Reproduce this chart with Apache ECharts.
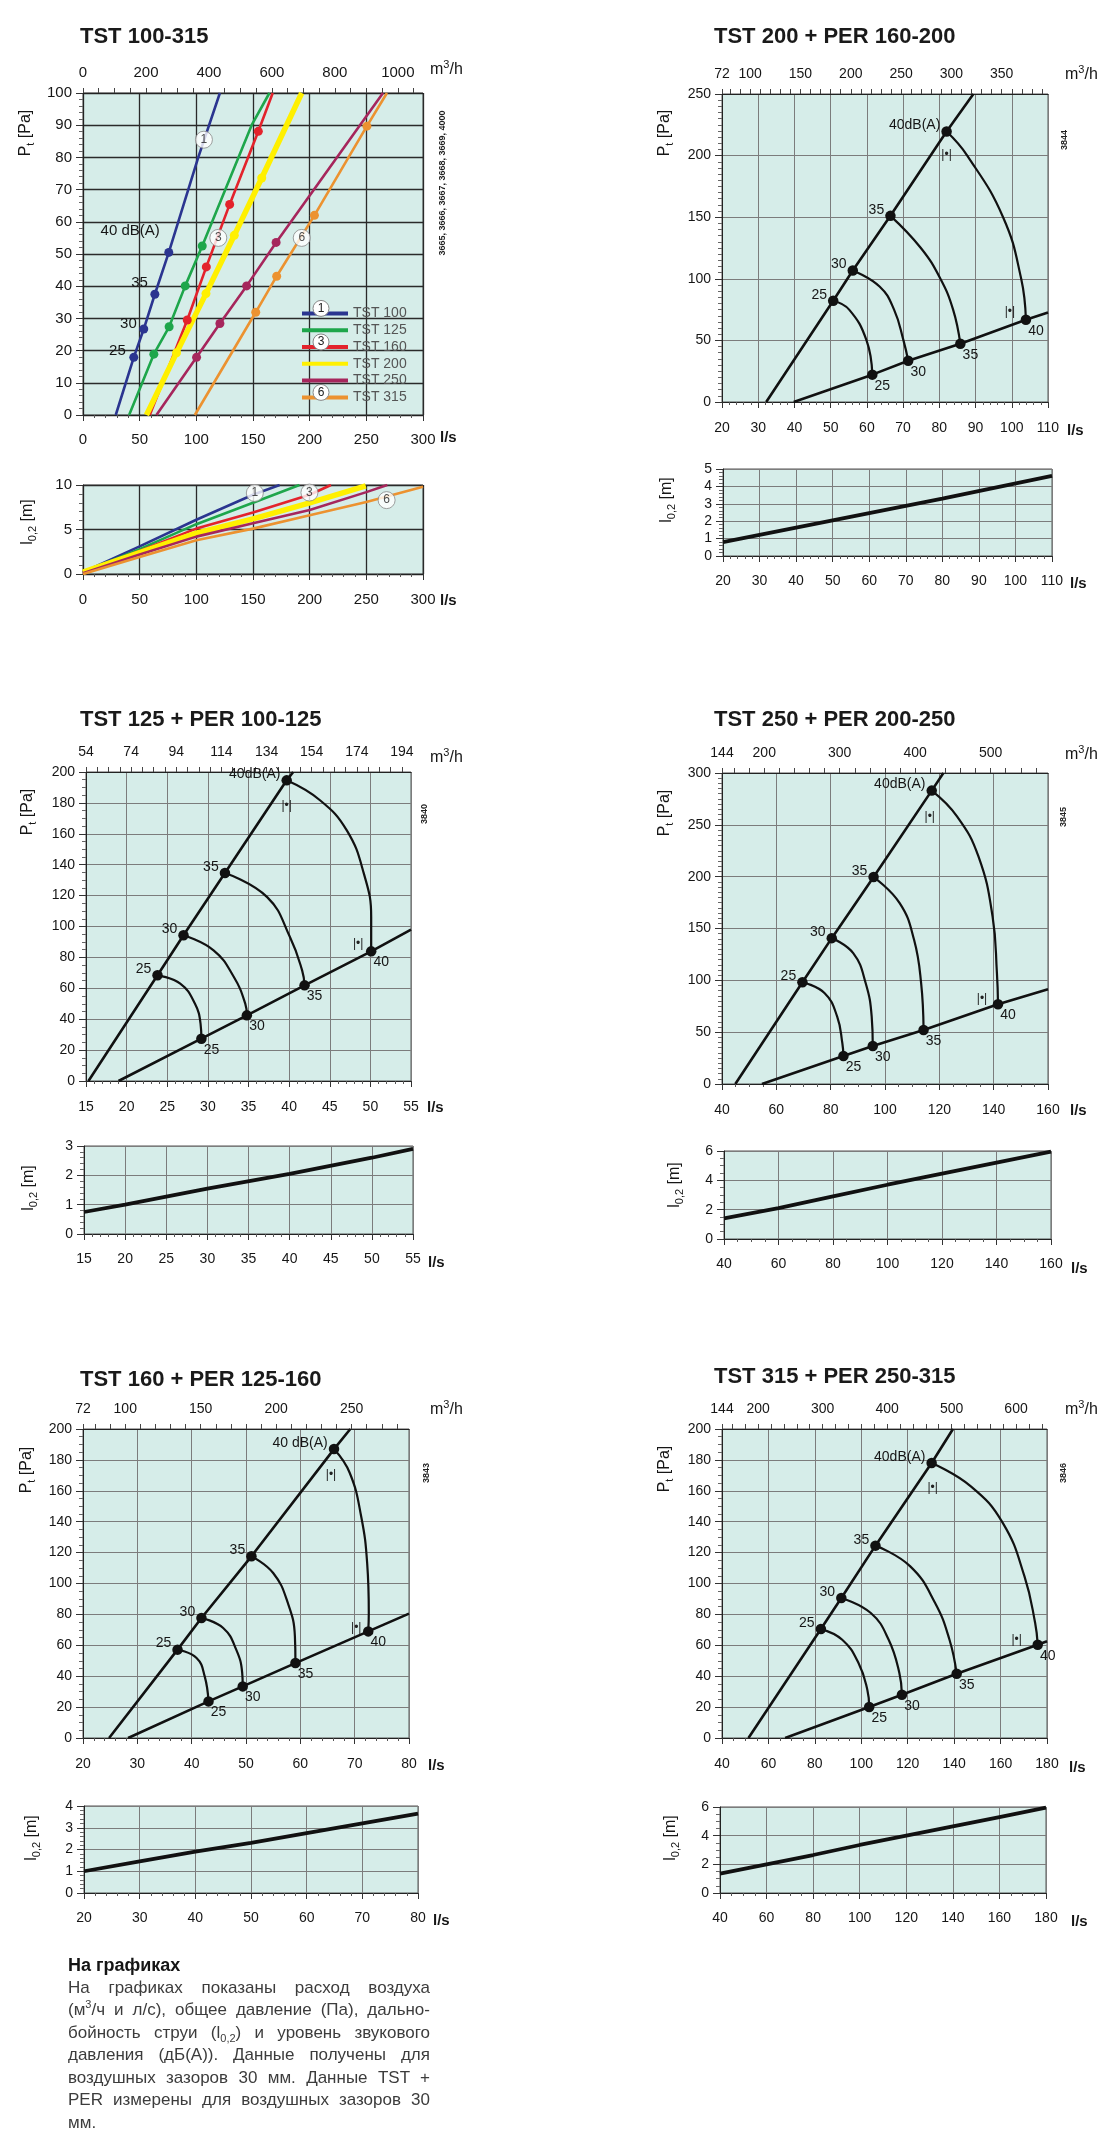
<!DOCTYPE html>
<html><head><meta charset="utf-8">
<script src="https://cdn.jsdelivr.net/npm/echarts@6/dist/echarts.min.js"></script>
<style>
html,body{margin:0;padding:0;background:#fff;}
#c{width:1120px;height:2137px;position:absolute;left:0;top:0;}
#note{position:absolute;left:68px;top:1954px;width:362px;font-family:"Liberation Sans",Arial,sans-serif;color:#3c3c3c;font-size:17px;line-height:22.5px;}
#note .h{font-weight:bold;color:#151515;font-size:18px;}
#note .l{text-align:justify;text-align-last:justify;}
#note sup,#note sub{font-size:11px;line-height:0;}
</style></head><body>
<div id="c"></div>
<div id="note">
<div class="h">На графиках</div>
<div class="l">На графиках показаны расход воздуха</div>
<div class="l">(м<sup>3</sup>/ч и л/с), общее давление (Па), дально-</div>
<div class="l">бойность струи (l<sub>0,2</sub>) и уровень звукового</div>
<div class="l">давления (дБ(А)). Данные получены для</div>
<div class="l">воздушных зазоров 30 мм. Данные TST +</div>
<div class="l">PER измерены для воздушных зазоров 30</div>
<div>мм.</div>
</div>
<script>
// ================= DATA =================
// Chart 1: TST 100-315, pressure [Pa] vs flow [l/s]; points 1..4 are the 25/30/35/40 dB(A) marks
const tstNames = ['TST 100','TST 125','TST 160','TST 200','TST 250','TST 315'];
const tstColors = ['#2b3590','#1ea64b','#e3232c','#fff000','#a6265c','#ec9230'];
const tst100P = [[28.9,0],[44.8,17.9],[53.6,26.7],[63.4,37.5],[75.7,50.5],[101.7,80],[120.8,100]];
const tst125P = [[40.7,0],[62.5,18.9],[76.0,27.4],[90.2,40.1],[105.2,52.5],[148.8,90],[164.5,100]];
const tst160P = [[58.9,0],[92.0,29.5],[108.8,46.0],[129.4,65.4],[154.7,88.1],[167.4,100]];
const tst200P = [[56.0,0],[82.5,19.3],[108.5,37.7],[133.5,55.8],[157.7,73.6],[193.0,100]];
const tst250P = [[64.8,0],[100.2,17.9],[120.8,28.4],[144.4,40.1],[170.4,53.6],[264.7,100]];
const tst315P = [[98.7,0],[152.4,31.9],[170.9,43.1],[204.2,62.0],[250.5,89.7],[268.2,100]];
const tst100DbLabels = ['25','30','35','40 dB(A)'];
// Chart 1 lower: throw l0,2 [m] vs flow [l/s]
const tst100L = [[0,0.2],[50,3.1],[100,6.1],[150,8.9],[173.5,10]];
const tst125L = [[0,0.2],[50,2.8],[100,5.6],[150,8.0],[191,10]];
const tst160L = [[0,0.2],[50,2.6],[100,5.1],[150,6.9],[200,8.9],[218.8,10]];
const tst200L = [[0,0.2],[50,2.4],[100,4.6],[150,6.2],[200,8.0],[249.5,9.9]];
const tst250L = [[0,0.1],[50,2.2],[100,4.2],[150,5.7],[200,7.2],[250,9.2],[268.5,10]];
const tst315L = [[0,0],[50,1.9],[100,3.8],[150,5.1],[200,6.6],[250,8.1],[300,9.8]];
const tagNames = ['1','3','6'];
const tagPosP = [[106.7,85.5],[119.4,55],[193,55]];
const tagPosL = [[151.6,9.1],[199.8,9.15],[267.9,8.3]];
const c1TopLabels = [0,200,400,600,800,1000];

// PER charts: upper/lower lines = [start, 25, 30, 35, 40, end]; arcs = inner points of each dB arc
const upTags = ['25','30','35','40dB(A)'];
const upTags160 = ['25','30','35','40 dB(A)'];
const loTags = ['25','30','35','40'];

const p200Upper = [[32.2,0],[50.7,82.2],[56.1,106.8],[66.5,151.1],[82.0,219.5],[89.4,250]];
const p200Lower = [[39.8,0],[61.5,22.2],[71.4,33.5],[85.8,47.3],[103.9,66.8],[110,72.7]];
const p200Arcs = [[[55.1,75],[59.9,50]],[[63.5,93.8],[67.5,75],[70.1,50]],[[74.9,125],[80.3,100],[83.8,75]],[[87.7,200],[97.6,150],[102.6,100]]];
const p200Throw = [[20,0.8],[50,2.05],[80,3.3],[110,4.6]];
const p200Top = [72,100,150,200,250,300,350];

const p125Upper = [[15.3,0],[23.8,68.4],[27.0,94.3],[32.1,134.6],[39.7,194.6],[40.5,200]];
const p125Lower = [[19.0,0],[29.2,27.4],[34.8,42.5],[41.9,61.9],[50.1,83.9],[55,98]];
const p125Arcs = [[[26.6,63],[28.4,50.1],[29.1,37]],[[30.7,84.6],[33.2,67.3],[34.6,50.1]],[[37.3,119],[40.1,93.2],[41.6,71.6]],[[43.8,181.7],[47.1,162.2],[49.2,134.2],[50.1,106.1]]];
const p125Throw = [[15,0.75],[20,1.0],[30,1.55],[40,2.05],[50,2.6],[55,2.9]];
const p125Top = [54,74,94,114,134,154,174,194];

const p250Upper = [[44.9,0],[69.6,98.2],[80.4,140.7],[95.8,199.6],[117.2,283],[121.5,300]];
const p250Lower = [[54.7,0],[84.7,27.0],[95.5,36.7],[114.2,52.1],[141.6,76.9],[160,91.4]];
const p250Arcs = [[[77.8,87.6],[82.4,65.0],[84.3,39.3]],[[88.3,126.2],[92.9,97.2],[95.1,65.0]],[[105.4,174.5],[110.7,139.1],[113.3,97.2]],[[126.5,258.2],[134.4,219.5],[139.6,161.6],[141.2,106.9]]];
const p250Throw = [[40,1.4],[60,2.1],[80,2.9],[100,3.7],[120,4.45],[140,5.2],[160,5.95]];
const p250Top = [144,200,300,400,500];

const p160Upper = [[24.8,0],[37.4,57.2],[41.8,77.7],[51.0,117.6],[66.2,187],[69.2,200]];
const p160Lower = [[28.3,0],[43.1,23.7],[49.4,33.4],[59.1,48.5],[72.5,69.0],[80,80.5]];
const p160Arcs = [[[40.9,51.8],[42.4,39.9]],[[45.8,71.2],[48.2,57.2],[49.3,42.1]],[[55.0,106.8],[57.7,87.4],[59.0,65.8]],[[69.1,171.5],[71.2,143.4],[72.3,113.2],[72.6,80.9]]];
const p160Throw = [[20,1.0],[30,1.45],[40,1.9],[50,2.3],[60,2.75],[70,3.2],[80,3.65]];
const p160Top = [72,100,150,200,250];

const p315Upper = [[51.4,0],[82.6,70.5],[91.4,90.6],[106.1,124.5],[130.3,178],[139.5,200]];
const p315Lower = [[67.2,0],[103.4,20.1],[117.5,28.0],[141.1,41.6],[176.0,60.4],[180,62.6]];
const p315Arcs = [[[91.8,63.6],[98.8,48.5],[102.6,31.3]],[[104.1,80.9],[111.8,63.6],[116.4,42.1]],[[121.1,111.1],[131.8,87.4],[138.0,63.6]],[[147.2,162.9],[161.0,139.1],[170.3,104.6],[174.9,74.4]]];
const p315Throw = [[40,1.35],[60,2.0],[80,2.65],[100,3.35],[120,4.0],[140,4.65],[160,5.3],[180,5.95]];
const p315Top = [144,200,300,400,500,600];

// ================= BUILD =================
const BG = '#d6ede9';
const FONT = '"Liberation Sans", Arial, Helvetica, sans-serif';
const TXT = '#161616';
const grid = [], xAxis = [], yAxis = [], series = [], graphic = [];
function range(a,b,s){const r=[];for(let v=a;v<=b+1e-9;v+=s)r.push(Math.round(v*100)/100);return r;}
const plain = v => String(Math.round(v*100)/100);

function txt(x,y,text,o){graphic.push({type:'text',x:x,y:y,rotation:o.rot||0,z:50,
  style:Object.assign({text:text,fill:TXT,fontFamily:FONT,fontSize:14,align:'left',verticalAlign:'middle'},o.style||{})});}
function mkGrid(b){grid.push({left:b[0],top:b[1],width:b[2],height:b[3],show:true,backgroundColor:BG,borderColor:'#555',borderWidth:1});return grid.length-1;}
function mkX(g,b,min,max,interval,minor,sc,sw,fs,gap,down,lm){
  xAxis.push({type:'value',gridIndex:g,position:'bottom',min,max,interval,
    axisLine:{show:true,onZero:false,lineStyle:{color:'#222',width:1}},
    axisTick:{show:true,inside:false,length:6,lineStyle:{color:'#333'}},
    minorTick:{show:true,splitNumber:minor,length:3,lineStyle:{color:'#555'}},
    axisLabel:{fontSize:fs,color:TXT,fontFamily:FONT,margin:lm,formatter:plain},
    splitLine:{show:true,lineStyle:{color:sc,width:sw}}});
  txt(b[0]+b[2]+gap,b[1]+b[3]+down,'l/s',{style:{fontSize:15,fontWeight:'bold'}});
  return xAxis.length-1;
}
function mkTop(g,b,min,max,labels,ticks,fs,gap,up){
  xAxis.push({type:'value',gridIndex:g,position:'top',min,max,
    axisLine:{show:true,onZero:false,lineStyle:{color:'#222',width:1}},
    axisTick:{show:true,inside:false,length:5,customValues:ticks,lineStyle:{color:'#444'}},
    axisLabel:{customValues:labels,fontSize:fs,color:TXT,fontFamily:FONT,margin:13,formatter:plain},
    splitLine:{show:false}});
  txt(b[0]+b[2]+gap,b[1]-up,'{a|m}{s|3}{a|/h}',{style:{rich:{a:{fontSize:16,fontFamily:FONT,fill:TXT,lineHeight:22},s:{fontSize:11,fontFamily:FONT,fill:TXT,verticalAlign:'top'}}}});
  return xAxis.length-1;
}
function mkY(g,min,max,interval,minor,sc,sw,fs){
  yAxis.push({type:'value',gridIndex:g,position:'left',min,max,interval,
    axisLine:{show:true,onZero:false,lineStyle:{color:'#222',width:1}},
    axisTick:{show:true,inside:false,length:7,lineStyle:{color:'#333'}},
    minorTick:{show:true,splitNumber:minor,length:4,lineStyle:{color:'#666'}},
    axisLabel:{fontSize:fs,color:TXT,fontFamily:FONT,margin:11,formatter:plain},
    splitLine:{show:true,lineStyle:{color:sc,width:sw}}});
  return yAxis.length-1;
}
function ln(xi,yi,data,color,width,smooth,name,z){
  series.push({type:'line',name:name,xAxisIndex:xi,yAxisIndex:yi,data:data,symbol:'none',smooth:smooth||false,
    lineStyle:{color:color,width:width},itemStyle:{color:color},silent:true,z:z||3,animation:false});
}
function dots(xi,yi,data,color,size,label,z,extra){
  series.push(Object.assign({type:'scatter',xAxisIndex:xi,yAxisIndex:yi,data:data,symbol:'circle',symbolSize:size,
    itemStyle:{color:color,opacity:1},label:label||{show:false},silent:true,z:z||5,animation:false},extra||{}));
}
function title(x,y,t){txt(x,y,t,{style:{fontSize:22,fontWeight:'bold',fill:'#1a1a1a'}});}
function code(x,y,t){txt(x,y,t,{rot:Math.PI/2,style:{fontSize:9,fontWeight:'bold',align:'center',fill:'#222'}});}
function yNameP(x,y){txt(x,y,'{b|P}{s|t}{b| [Pa]}',{rot:Math.PI/2,style:{align:'center',rich:{b:{fontSize:16,fontFamily:FONT,fill:TXT,lineHeight:20},s:{fontSize:11,fontFamily:FONT,fill:TXT,verticalAlign:'bottom'}}}});}
function yNameL(x,y){txt(x,y,'{b|l}{s|0,2}{b| [m]}',{rot:Math.PI/2,style:{align:'center',rich:{b:{fontSize:16,fontFamily:FONT,fill:TXT,lineHeight:20},s:{fontSize:11,fontFamily:FONT,fill:TXT,verticalAlign:'bottom'}}}});}

// ---------- Chart 1 ----------
const tstCurves = [tst100P,tst125P,tst160P,tst200P,tst250P,tst315P];
const tstThrow = [tst100L,tst125L,tst160L,tst200L,tst250L,tst315L];
(function(){
  const b = [83,93,340,322];
  const g = mkGrid(b);
  const xi = mkX(g,b,0,300,50,5,'#2a2a2a',1.3,15,17,23,17);
  mkTop(g,b,0,1080,c1TopLabels,range(0,1050,50),15,7,23);
  const yi = mkY(g,0,100,10,5,'#2a2a2a',1.3,15);
  tstCurves.forEach((c,i)=>{
    ln(xi,yi,c,tstColors[i],i===3?5.5:2.6,false,tstNames[i],3+i*0.01);
    const marks = c.slice(1,5).map((p,k)=>{
      const it={value:p};
      if(i===0){const offs=[[0,-7],[0,-5],[0,-11],[0,-22]];it.name=tst100DbLabels[k];it.label={offset:offs[k],distance:[3.5,2.5,2.5,4.5][k]};}
      return it;});
    dots(xi,yi,marks,tstColors[i],9,i===0?{show:true,position:'left',formatter:'{b}',fontSize:15,color:TXT,fontFamily:FONT}:{show:false},4+i*0.01);
  });
  dots(xi,yi,tagPosP.map((p,k)=>({name:tagNames[k],value:p})),'#fff',17,{show:true,position:'inside',formatter:'{b}',fontSize:12,color:'#222',fontFamily:FONT},8,{itemStyle:{color:'#fff',borderColor:'#888',borderWidth:1}});
  title(80,37,'TST 100-315');
  yNameP(26,133);
  code(443,183,'3665, 3666, 3667, 3668, 3669, 4000');
  // lower
  const bl = [83,485,340,89];
  const gl = mkGrid(bl);
  const xl = mkX(gl,bl,0,300,50,5,'#2a2a2a',1.3,15,17,27,18);
  const yl = mkY(gl,0,10,5,5,'#2a2a2a',1.3,15);
  tstThrow.forEach((c,i)=>ln(xl,yl,c,tstColors[i],i===3?5.5:2.6,false,tstNames[i],3+i*0.01));
  dots(xl,yl,tagPosL.map((p,k)=>({name:tagNames[k],value:p})),'#fff',17,{show:true,position:'inside',formatter:'{b}',fontSize:12,color:'#222',fontFamily:FONT},8,{itemStyle:{color:'#fff',borderColor:'#888',borderWidth:1}});
  yNameL(28,522);
  // legend number circles
  [[0,'1'],[2,'3'],[5,'6']].forEach(([k,t])=>{
    const cy = 300+8.4+k*16.8;
    graphic.push({type:'circle',z:60,shape:{cx:321,cy:cy,r:8},style:{fill:'#fff',stroke:'#888',lineWidth:1}});
    graphic.push({type:'text',z:61,x:321,y:cy,style:{text:t,fontSize:12,fontFamily:FONT,fill:'#222',align:'center',verticalAlign:'middle'}});
  });
})();

// ---------- PER charts ----------
function perChart(c){
  const g = mkGrid(c.box);
  const xi = mkX(g,c.box,c.x[0],c.x[1],c.x[2],c.x[3],'#7c7c7c',1,14,c.nb[0],c.nb[1],19);
  mkTop(g,c.box,c.x[0]*3.6,c.x[1]*3.6,c.top,c.topTicks,14,c.nt[0],c.nt[1]);
  const yi = mkY(g,0,c.y[0],c.y[1],c.y[2],'#7c7c7c',1,14);
  ln(xi,yi,c.upper,'#111',2.6);
  ln(xi,yi,c.lower,'#111',2.6);
  c.arcs.forEach((mid,i)=>ln(xi,yi,[c.upper[i+1]].concat(mid,[c.lower[i+1]]),'#111',2.2,0.45));
  dots(xi,yi,c.upper.slice(1,5).map((p,i)=>({name:c.upTags[i],value:p})),'#111',10.5,
    {show:true,position:'left',distance:1,offset:[0,-6],formatter:'{b}',fontSize:14,color:TXT,fontFamily:FONT});
  dots(xi,yi,c.lower.slice(1,5).map((p,i)=>({name:loTags[i],value:p})),'#111',10.5,
    {show:true,position:'right',distance:-3,offset:[0,11],formatter:'{b}',fontSize:14,color:TXT,fontFamily:FONT});
  dots(xi,yi,[{value:c.upper[4],label:{offset:c.br[0]}},{value:c.lower[4],label:{offset:c.br[1]}}],'rgba(0,0,0,0)',1,
    {show:true,position:'inside',formatter:'|•|',fontSize:12,color:'#222',fontFamily:FONT},6);
  title(c.title[0],c.title[1],c.title[2]);
  yNameP(c.yn[0],c.yn[1]);
  code(c.code[0],c.code[1],c.code[2]);
  const gl = mkGrid(c.lbox);
  const xl = mkX(gl,c.lbox,c.x[0],c.x[1],c.x[2],c.x[3],'#7c7c7c',1,14,c.nl[0],c.nl[1],18);
  const yl = mkY(gl,0,c.ly[0],c.ly[1],c.ly[2],'#7c7c7c',1,14);
  ln(xl,yl,c.thr,'#111',3.8);
  yNameL(c.lyn[0],c.lyn[1]);
}
perChart({box:[722,94,326,308],x:[20,110,10,5],y:[250,50,10],top:p200Top,topTicks:[72].concat(range(80,390,10)),
  upper:p200Upper,lower:p200Lower,arcs:p200Arcs,upTags:upTags,br:[[0,23],[-16,-8]],nb:[19,29],nt:[17,19],
  title:[714,37,'TST 200 + PER 160-200'],yn:[665,133],code:[1065,140,'3844'],
  lbox:[723,469,329,87],ly:[5,1,5],thr:p200Throw,nl:[18,28],lyn:[667,500]});
perChart({box:[86,772,325,309],x:[15,55,5,5],y:[200,20,4],top:p125Top,topTicks:range(54,198,5),
  upper:p125Upper,lower:p125Lower,arcs:p125Arcs,upTags:upTags,br:[[0,25],[-13,-8]],nb:[16,27],nt:[19,14],
  title:[80,720,'TST 125 + PER 100-125'],yn:[28,812],code:[425,814,'3840'],
  lbox:[84,1146,329,88],ly:[3,1,5],thr:p125Throw,nl:[15,29],lyn:[29,1188]});
perChart({box:[722,773,326,311],x:[40,160,20,4],y:[300,50,10],top:p250Top,topTicks:[144].concat(range(160,560,20)),
  upper:p250Upper,lower:p250Lower,arcs:p250Arcs,upTags:upTags,br:[[-2,26],[-16,-6]],nb:[22,27],nt:[17,18],
  title:[714,720,'TST 250 + PER 200-250'],yn:[665,813],code:[1064,817,'3845'],
  lbox:[724,1151,327,88],ly:[6,2,4],thr:p250Throw,nl:[20,30],lyn:[675,1185]});
perChart({box:[83,1429,326,309],x:[20,80,10,5],y:[200,20,4],top:p160Top,topTicks:[72].concat(range(80,280,10)),
  upper:p160Upper,lower:p160Lower,arcs:p160Arcs,upTags:upTags160,br:[[-3,26],[-12,-4]],nb:[19,28],nt:[21,19],
  title:[80,1380,'TST 160 + PER 125-160'],yn:[27,1470],code:[427,1473,'3843'],
  lbox:[84,1806,334,87],ly:[4,1,5],thr:p160Throw,nl:[15,28],lyn:[32,1838]});
perChart({box:[722,1429,325,309],x:[40,180,20,4],y:[200,20,4],top:p315Top,topTicks:[144].concat(range(160,640,20)),
  upper:p315Upper,lower:p315Lower,arcs:p315Arcs,upTags:upTags,br:[[1,25],[-21,-5]],nb:[22,30],nt:[18,19],
  title:[714,1377,'TST 315 + PER 250-315'],yn:[665,1469],code:[1064,1473,'3846'],
  lbox:[720,1807,326,86],ly:[6,2,4],thr:p315Throw,nl:[25,29],lyn:[671,1838]});

const chart = echarts.init(document.getElementById('c'),null,{renderer:'canvas',width:1120,height:2137});
chart.setOption({
  animation:false,
  backgroundColor:'#fff',
  textStyle:{fontFamily:FONT},
  grid:grid, xAxis:xAxis, yAxis:yAxis, series:series, graphic:graphic,
  legend:{show:true,orient:'vertical',left:297,top:300,itemWidth:46,itemHeight:4,itemGap:0,icon:'rect',selectedMode:false,
    data:tstNames,textStyle:{fontSize:14,color:'#555',fontFamily:FONT,lineHeight:16.8}}
});
</script>
</body></html>
